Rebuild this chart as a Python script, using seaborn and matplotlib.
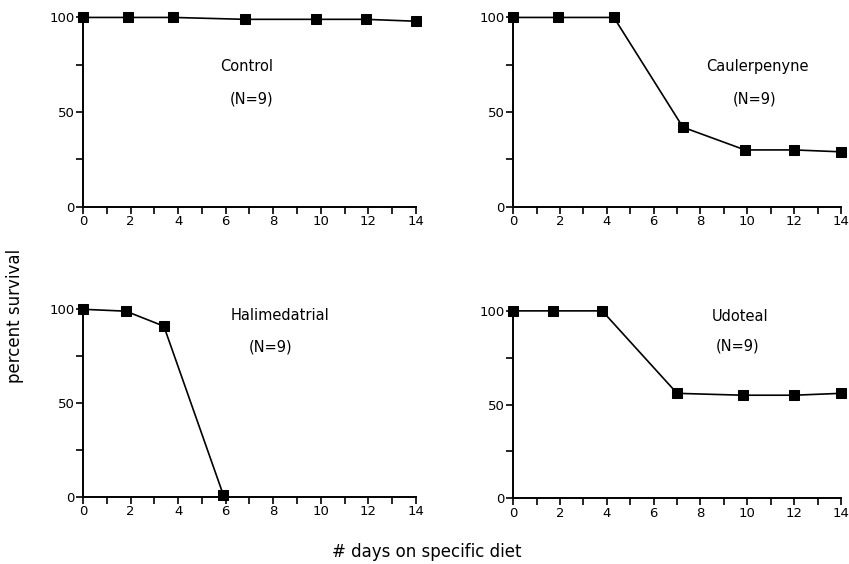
import numpy as np
import pandas as pd
import matplotlib
matplotlib.use("Agg")
import matplotlib.pyplot as plt
import seaborn as sns

sns.set_style("ticks")
plt.rcParams['font.family'] = ['DejaVu Sans']
plt.rcParams['text.color'] = 'black'

# Data
control_days = [0, 1.9, 3.8, 6.8, 9.8, 11.9, 14]
control_surv = [100, 100, 100, 99, 99, 99, 98]

caul_days = [0, 1.9, 4.3, 7.25, 9.9, 12.0, 14]
caul_surv = [100, 100, 100, 42, 30, 30, 29]

hali_days = [0, 1.8, 3.4, 5.9]
hali_surv = [100, 99, 91, 1]

udo_days = [0, 1.7, 3.8, 7.0, 9.8, 12.0, 14]
udo_surv = [100, 100, 100, 56, 55, 55, 56]

panel_titles = ["Control", "Caulerpenyne", "Halimedatrial", "Udoteal"]
n_label = "(N=9)"
x_ticks = [0, 2, 4, 6, 8, 10, 12, 14]
y_ticks = [0, 50, 100]

panels = [
    (control_days, control_surv, panel_titles[0], (6.9, 74), (7.1, 57)),
    (caul_days, caul_surv, panel_titles[1], (10.45, 74), (10.3, 57)),
    (hali_days, hali_surv, panel_titles[2], (8.3, 96.5), (7.9, 80)),
    (udo_days, udo_surv, panel_titles[3], (9.7, 96.8), (9.6, 81.5)),
]

positions = [
    [0.0978, 0.6335, 0.392, 0.349],
    [0.6045, 0.6335, 0.386, 0.349],
    [0.0978, 0.1193, 0.392, 0.3456],
    [0.6045, 0.1165, 0.386, 0.3456],
]

fig = plt.figure(figsize=(8.49, 5.64), dpi=100)

for (days, surv, title, tpos, npos), pos in zip(panels, positions):
    ax = fig.add_axes(pos)
    df = pd.DataFrame({"day": days, "survival": surv})
    sns.lineplot(data=df, x="day", y="survival", ax=ax, color="black",
                 linewidth=1.2, marker="s", markersize=7,
                 markeredgecolor="black", markerfacecolor="black")
    ax.set_xlim(0, 14)
    ax.set_ylim(0, 104)
    ax.set_xticks(x_ticks)
    ax.set_xticks(np.arange(0, 15, 1), minor=True)
    ax.set_yticks(y_ticks)
    ax.set_yticks([25, 75], minor=True)
    ax.tick_params(axis="both", which="major", direction="out", length=5,
                   width=1.2, labelsize=9.5, pad=1, colors="black")
    ax.tick_params(axis="both", which="minor", direction="out", length=5,
                   width=1.2, colors="black")
    ax.set_xlabel("")
    ax.set_ylabel("")
    for s in ["top", "right"]:
        ax.spines[s].set_visible(False)
    for s in ["left", "bottom"]:
        ax.spines[s].set_linewidth(1.4)
        ax.spines[s].set_color("black")
    ax.spines["left"].set_bounds(0, 100)
    ax.text(tpos[0], tpos[1], title, ha="center", va="center", fontsize=10.5,
            color="black")
    ax.text(npos[0], npos[1], n_label, ha="center", va="center", fontsize=10.5,
            color="black")
    for line in ax.lines:
        line.set_clip_on(False)

fig.text(0.018, 0.44, "percent survival", rotation=90, ha="center",
         va="center", fontsize=12, color="black")
fig.text(0.503, 0.021, "# days on specific diet", ha="center", va="center",
         fontsize=12, color="black")

fig.savefig("out.png", dpi=100)
